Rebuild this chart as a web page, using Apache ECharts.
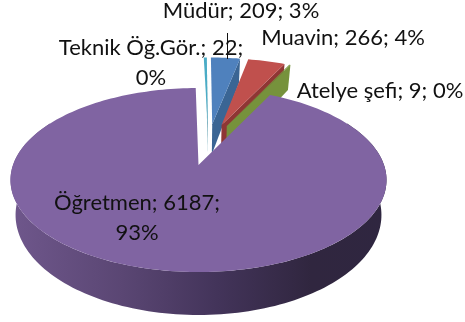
<!DOCTYPE html>
<html><head><meta charset="utf-8">
<style>html,body{margin:0;padding:0;background:#fff}#c{width:465px;height:322px}</style>
<script src="https://cdn.jsdelivr.net/npm/echarts@6/dist/echarts.min.js"></script>
</head><body><div id="c"></div>
<script>
const categories = ['Teknik Öğ.Gör.', 'Müdür', 'Muavin', 'Atelye şefi', 'Öğretmen'];
const values = [22, 209, 266, 9, 6187];
const percents = [0, 3, 4, 0, 93];

const topColors = ['#4BACC6', '#4F81BD', '#C0504D', '#76923C', '#8064A2'];
const wallColors = ['#2C7F95', '#3A6594', '#8F3634', '#76923C', '#4D3C63'];
const labelLayout = [
  {x: 151, y: 63},
  {x: 241, y: 11},
  {x: 343, y: 38},
  {x: 380, y: 91},
  {x: 137, y: 218}
];
const breakAfterValue = [true, false, false, false, true];
const leader = {x: 227.5, y1: 33, y2: 59};

// projected pie geometry
const P = {cx: 198.5, cy: 180, s: 185.5, a: 92, b: 15, c: 0.163, explode: 0.25, start: -1};
const total = values.reduce((a, b) => a + b, 0);
const rad = d => d * Math.PI / 180;
const slices = [];
let acc = P.start;
values.forEach(v => { const sw = v / total * 360; slices.push({a0: acc, a1: acc + sw, mid: acc + sw / 2}); acc += sw; });
const last = slices[slices.length - 1];
const baseDir = [Math.sin(rad(last.mid)), Math.cos(rad(last.mid))];
slices.forEach(s => {
  s.du = (Math.sin(rad(s.mid)) - baseDir[0]) * P.explode;
  s.dv = (Math.cos(rad(s.mid)) - baseDir[1]) * P.explode;
});
function proj(u, v) {
  const w = 1 + P.c * v;
  return [P.cx + u * P.s / w, P.cy + (-P.b - P.a * v) / w];
}
function drop(p) {
  const dy = p[1] - P.cy;
  return [P.cx + (p[0] - P.cx) * 0.973, p[1] + 35 + dy * 0.087];
}
function rim(s, deg) { return proj(s.du + Math.sin(rad(deg)), s.dv + Math.cos(rad(deg))); }
function arc(s, from, to) {
  const n = Math.max(2, Math.ceil(Math.abs(to - from) / 1.5));
  const pts = [];
  for (let i = 0; i <= n; i++) pts.push(rim(s, from + (to - from) * i / n));
  return pts;
}

function renderSlice(params) {
  const i = params.dataIndex, s = slices[i], children = [];
  const apex = proj(s.du, s.dv);
  const isMain = i === slices.length - 1;
  if (isMain) {
    const front = arc(s, 60, 300);
    children.push({type: 'polygon', shape: {points: front.concat(front.map(drop).reverse())},
      style: {fill: {type: 'linear', x: 0, y: 0, x2: 1, y2: 0, colorStops: [
        {offset: 0, color: '#6F578C'}, {offset: 0.3, color: '#5A4673'},
        {offset: 0.55, color: '#43345A'}, {offset: 0.8, color: '#30263F'}, {offset: 1, color: '#2F2640'}]}}});
  } else {
    const edge = rim(s, s.a1);
    children.push({type: 'polygon', shape: {points: [apex, edge, drop(edge), drop(apex)]},
      style: {fill: wallColors[i]}});
  }
  children.push({type: 'polygon', shape: {points: [apex].concat(arc(s, s.a0, s.a1))},
    style: {fill: topColors[i]}});
  return {type: 'group', children};
}

function renderLabel(params) {
  const i = params.dataIndex, l = labelLayout[i];
  const head = categories[i] + '; ' + values[i] + ';';
  const text = head + (breakAfterValue[i] ? '\n' : ' ') + percents[i] + '%';
  const children = [{type: 'text', style: {x: l.x, y: l.y, text, align: 'center', verticalAlign: 'middle',
    fontFamily: 'Lato', fontSize: 22, lineHeight: 30, fill: '#111'}}];
  if (i === 0) children.push({type: 'line', shape: {x1: leader.x, y1: leader.y1, x2: leader.x, y2: leader.y2},
    style: {stroke: '#111', lineWidth: 1}});
  return {type: 'group', children};
}

const chart = echarts.init(document.getElementById('c'), null, {renderer: 'canvas'});
chart.setOption({
  animation: false,
  backgroundColor: '#fff',
  series: [
    {type: 'custom', coordinateSystem: 'none', renderItem: renderSlice, data: values, z: 1, silent: true},
    {type: 'custom', coordinateSystem: 'none', renderItem: renderLabel, data: values, z: 2, silent: true}
  ]
});
</script></body></html>
